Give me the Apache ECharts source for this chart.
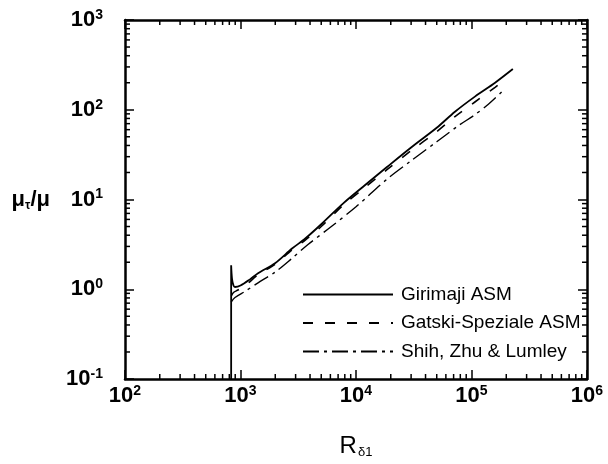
<!DOCTYPE html>
<html>
<head>
<meta charset="utf-8">
<title>mu_t/mu vs R_delta1</title>
<script src="https://cdn.jsdelivr.net/npm/echarts@6/dist/echarts.min.js"></script>
<style>
  html, body { margin: 0; padding: 0; background: #fff; }
  #chart { width: 608px; height: 464px; }
</style>
</head>
<body>
<div id="chart"></div>
<script>
// values (R_delta1, mu_t/mu)
const girimajiR   = [830, 830, 845, 870, 896, 1000, 1200, 1419, 1991, 2793, 3615, 5000, 7710, 12000, 18540, 30000, 50000, 71900, 107000, 160000, 228000];
const girimajiMu  = [0.1, 1.85, 1.3, 1.1, 1.06, 1.1, 1.28, 1.51, 1.95, 2.84, 3.65, 5.3, 9.0, 14.5, 23, 38, 63, 95, 140, 200, 284];
const gatskiR     = [835, 870, 950, 1100, 1419, 1991, 2793, 3615, 5000, 7710, 12000, 18540, 30000, 50000, 71900, 107000, 160000, 203000];
const gatskiMu    = [0.85, 0.92, 0.98, 1.1, 1.45, 1.9, 2.75, 3.5, 5.0, 8.6, 13.7, 21.5, 35, 57, 84, 122, 178, 225];
const shihR       = [830, 896, 1100, 1419, 1991, 2793, 3840, 6000, 10000, 18500, 30000, 50000, 79000, 103000, 140000, 187000];
const shihMu      = [0.72, 0.81, 0.95, 1.18, 1.55, 2.21, 3.15, 4.9, 8.3, 16.8, 27, 44, 68, 85, 115, 163];

const seriesNames = ['Girimaji ASM', 'Gatski-Speziale ASM', 'Shih, Zhu & Lumley'];

const X_MIN = 100, X_MAX = 1e6;
const Y_MIN = 0.1, Y_MAX = 1000;
const minorSteps = [2, 3, 4, 5, 6, 7, 8, 9];
const xDecades = [100, 1000, 10000, 100000];
const yDecades = [0.1, 1, 10, 100];

const FONT = '"Liberation Sans", Arial, Helvetica, sans-serif';

function pairs(xs, ys) {
    return xs.map(function (x, i) { return [x, ys[i]]; });
}

function minorValues(decades) {
    const out = [];
    decades.forEach(function (d) {
        minorSteps.forEach(function (m) { out.push(+(d * m).toPrecision(3)); });
    });
    return out;
}

function powLabel(v) {
    const e = Math.round(Math.log10(v));
    return '{b|10}{s|' + e + '}';
}

const labelRich = {
    b: { fontFamily: FONT, fontSize: 22, fontWeight: 'bold', color: '#000', lineHeight: 24 },
    s: { fontFamily: FONT, fontSize: 14, fontWeight: 'bold', color: '#000', verticalAlign: 'top', lineHeight: 14 }
};

const axisLine = { show: true, onZero: false, lineStyle: { color: '#000', width: 2.5 } };
const axisTick = { show: true, inside: true, length: 9, lineStyle: { color: '#000', width: 1.5 } };

const chart = echarts.init(document.getElementById('chart'));

const option = {
    animation: false,
    backgroundColor: '#fff',
    grid: { left: 125, right: 21, top: 20, bottom: 78 },
    legend: {
        orient: 'vertical',
        left: 297,
        top: 280,
        itemWidth: 90,
        itemHeight: 14,
        itemGap: 9.5,
        data: seriesNames,
        itemStyle: { opacity: 0 },
        textStyle: { fontFamily: FONT, fontSize: 19, lineHeight: 18, color: '#000', padding: [0, 0, 0, 3] }
    },
    xAxis: [
        {
            type: 'log', logBase: 10, min: X_MIN, max: X_MAX,
            name: '{m|R}{s|\u03b41}',
            nameLocation: 'middle',
            nameGap: 54,
            nameTextStyle: {
                rich: {
                    m: { fontFamily: FONT, fontSize: 24, color: '#000', lineHeight: 26 },
                    s: { fontFamily: FONT, fontSize: 13, color: '#000', verticalAlign: 'bottom', padding: [10, 0, 0, 1] }
                }
            },
            axisLine: axisLine, axisTick: axisTick,
            splitLine: { show: false },
            axisLabel: { margin: 5, formatter: powLabel, rich: labelRich }
        },
        {
            type: 'log', logBase: 10, min: X_MIN, max: X_MAX, position: 'top',
            axisLine: axisLine, axisTick: axisTick,
            splitLine: { show: false }, axisLabel: { show: false }
        }
    ],
    yAxis: [
        {
            type: 'log', logBase: 10, min: Y_MIN, max: Y_MAX,
            name: '{m|\u03bc}{s|\u03c4}{m|/\u03bc}',
            nameLocation: 'middle',
            nameRotate: 0,
            nameGap: 75,
            nameTextStyle: {
                rich: {
                    m: { fontFamily: FONT, fontSize: 22, fontWeight: 'bold', color: '#000', lineHeight: 24 },
                    s: { fontFamily: FONT, fontSize: 12, fontWeight: 'bold', color: '#000', verticalAlign: 'bottom', padding: [8, 0, 0, 0] }
                }
            },
            axisLine: axisLine, axisTick: axisTick,
            splitLine: { show: false },
            axisLabel: { margin: 22, formatter: powLabel, rich: labelRich }
        },
        {
            type: 'log', logBase: 10, min: Y_MIN, max: Y_MAX, position: 'right',
            axisLine: axisLine, axisTick: axisTick,
            splitLine: { show: false }, axisLabel: { show: false }
        }
    ],
    series: [
        {
            name: seriesNames[0], type: 'line', symbol: 'none', smooth: 0.3,
            lineStyle: { color: '#000', width: 1.8, type: 'solid' },
            itemStyle: { color: '#000' },
            data: pairs(girimajiR, girimajiMu)
        },
        {
            name: seriesNames[1], type: 'line', symbol: 'none', smooth: 0.3,
            lineStyle: { color: '#000', width: 1.6, type: [10, 12] },
            itemStyle: { color: '#000' },
            data: pairs(gatskiR, gatskiMu)
        },
        {
            name: seriesNames[2], type: 'line', symbol: 'none', smooth: 0.3,
            lineStyle: { color: '#000', width: 1.4, type: [16, 5, 3, 5] },
            itemStyle: { color: '#000' },
            data: pairs(shihR, shihMu)
        },
        {
            // minor ticks on bottom and top axes
            type: 'custom', silent: true, clip: false,
            data: minorValues(xDecades).map(function (v) { return [v, 1]; }),
            renderItem: function (params, api) {
                const b = api.coord([api.value(0), Y_MIN]);
                const t = api.coord([api.value(0), Y_MAX]);
                const st = { stroke: '#000', lineWidth: 1.5 };
                return {
                    type: 'group',
                    children: [
                        { type: 'line', shape: { x1: b[0], y1: b[1], x2: b[0], y2: b[1] - 5 }, style: st },
                        { type: 'line', shape: { x1: t[0], y1: t[1], x2: t[0], y2: t[1] + 5 }, style: st }
                    ]
                };
            }
        },
        {
            // minor ticks on left and right axes
            type: 'custom', silent: true, clip: false,
            data: minorValues(yDecades).map(function (v) { return [1000, v]; }),
            renderItem: function (params, api) {
                const l = api.coord([X_MIN, api.value(1)]);
                const r = api.coord([X_MAX, api.value(1)]);
                const st = { stroke: '#000', lineWidth: 1.5 };
                return {
                    type: 'group',
                    children: [
                        { type: 'line', shape: { x1: l[0], y1: l[1], x2: l[0] + 5, y2: l[1] }, style: st },
                        { type: 'line', shape: { x1: r[0], y1: r[1], x2: r[0] - 5, y2: r[1] }, style: st }
                    ]
                };
            }
        }
    ]
};

chart.setOption(option);
window.addEventListener('resize', function () {
    chart.resize();
});
</script>
</body>
</html>
